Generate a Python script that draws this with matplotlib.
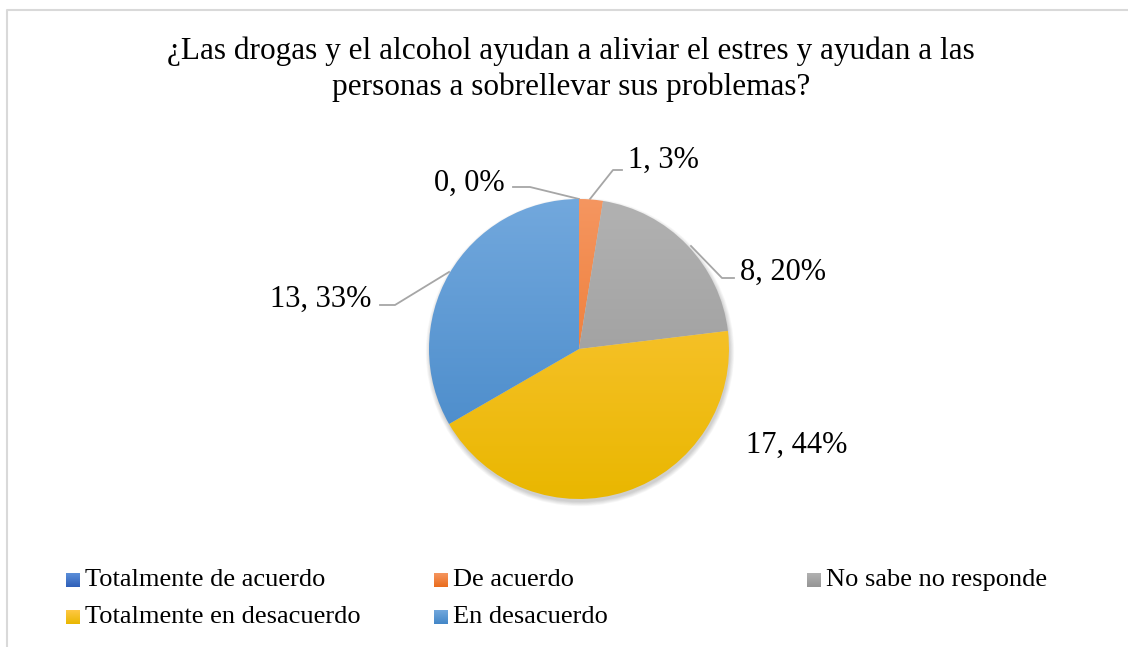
import numpy as np
import matplotlib
matplotlib.use("Agg")
import matplotlib.pyplot as plt
from matplotlib.patches import Circle
from matplotlib.colors import LinearSegmentedColormap

plt.rcParams['font.family'] = ['Liberation Serif', 'DejaVu Serif']

title = "¿Las drogas y el alcohol ayudan a aliviar el estres y ayudan a las\npersonas a sobrellevar sus problemas?"
categories = ["Totalmente de acuerdo", "De acuerdo", "No sabe no responde",
              "Totalmente en desacuerdo", "En desacuerdo"]
values = [0, 1, 8, 17, 13]
percents = ["0%", "3%", "20%", "44%", "33%"]
# gradient (top, bottom) per slice
grad_colors = [("#5b8fd9", "#2f5fb8"), ("#f59660", "#ea6c1c"), ("#b2b2b2", "#949494"),
               ("#ffc845", "#e9b700"), ("#72a8dd", "#4386c7")]

W, H = 1128, 647
fig = plt.figure(figsize=(W / 100, H / 100), dpi=100)
ax = fig.add_axes([0, 0, 1, 1])
ax.axis("off")

# chart border
ax.plot([7, 7, W + 5], [-5, H - 10, H - 10], color="#d9d9d9", lw=1.5)

ax.text(571, H - 69, title, ha="center", va="center", fontsize=22.5,
        linespacing=1.3)

cx, cy, r = 579, H - 349, 150

# soft shadow
for i in range(8):
    ax.add_patch(Circle((cx + 1, cy - 3), r + 0.6 * i, color="k",
                        alpha=0.025, lw=0, zorder=1))

wedges, _ = ax.pie(values, startangle=90, counterclock=False,
                   center=(cx, cy), radius=r, frame=False,
                   wedgeprops=dict(linewidth=0, zorder=2))

grad = np.linspace(0, 1, 256).reshape(-1, 1)
for w, (top, bot) in zip(wedges, grad_colors):
    cmap = LinearSegmentedColormap.from_list("g", [bot, top])
    w.set_facecolor("none")
    im = ax.imshow(grad, cmap=cmap, extent=(cx - r, cx + r, cy - r, cy + r),
                   origin="lower", aspect="auto", zorder=3)
    im.set_clip_path(w)

# data labels
lbl = [f"{v}, {p}" for v, p in zip(values, percents)]
lc = "#a6a6a6"
fs = 22
ax.text(469, H - 183, lbl[0], ha="center", va="center", fontsize=fs)
ax.plot([513, 530, 579], [H - 187, H - 187, H - 199], color=lc, lw=1.3)
ax.text(663, H - 160, lbl[1], ha="center", va="center", fontsize=fs)
ax.plot([590, 613, 622], [H - 199, H - 170, H - 170], color=lc, lw=1.3)
ax.text(783, H - 272, lbl[2], ha="center", va="center", fontsize=fs)
ax.plot([691, 722, 734], [H - 246, H - 278, H - 278], color=lc, lw=1.3)
ax.text(797, H - 445, lbl[3], ha="center", va="center", fontsize=fs)
ax.text(321, H - 299, lbl[4], ha="center", va="center", fontsize=fs)
ax.plot([380, 395, 449], [H - 305, H - 305, H - 272], color=lc, lw=1.3)

# legend
leg_pos = [(66, 580), (434, 580), (807, 580), (66, 617), (434, 617)]
for (lx, ly), name, (top, bot) in zip(leg_pos, categories, grad_colors):
    cmap = LinearSegmentedColormap.from_list("m", [bot, top])
    ax.imshow(grad, cmap=cmap, extent=(lx, lx + 14, H - ly - 7, H - ly + 7),
              origin="lower", aspect="auto", zorder=3)
    ax.text(lx + 19, H - ly, name, ha="left", va="center", fontsize=19)

ax.set_xlim(0, W)
ax.set_ylim(0, H)
ax.set_aspect("auto")
fig.savefig("out.png", dpi=100)
